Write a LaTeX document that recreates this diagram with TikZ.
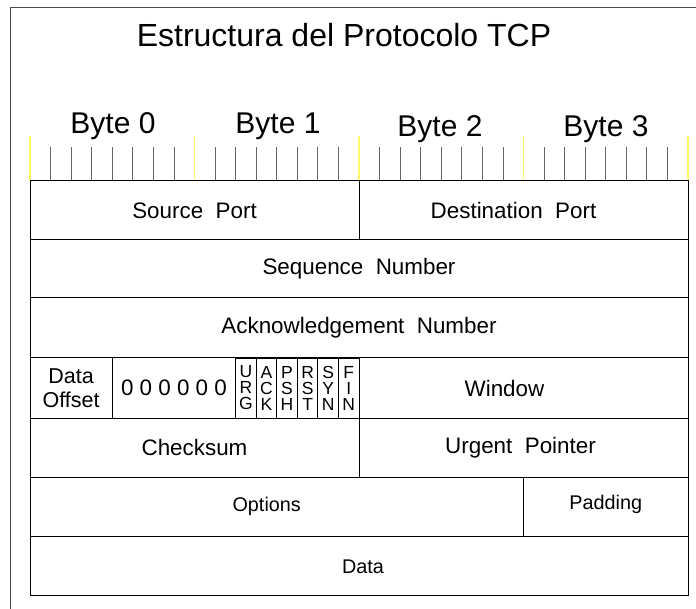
\documentclass[tikz,border=0pt]{standalone}
\usepackage{fontspec}
\setmainfont{Liberation Sans}

\newcommand{\fieldsize}{\fontsize{22.4}{24}\selectfont}
\newcommand{\smallfieldsize}{\fontsize{19.8}{22}\selectfont}
\newcommand{\flagsize}{\fontsize{17.5}{16}\selectfont}

\tikzset{
  field/.style={draw, line width=1pt, inner sep=0pt, font=\fieldsize},
  flagbox/.style={draw, line width=0.8pt, inner sep=0pt, align=center,
    minimum width=20.5625pt, minimum height=60pt, font=\flagsize},
  bittick/.style={draw=black!60, line width=0.8pt},
  bytetick/.style={draw=yellow!60, line width=1.2pt},
  every label/.style={font=\fieldsize}
}

\begin{document}
\begin{tikzpicture}[x=1pt, y=-1pt]
      \useasboundingbox (0, 0) rectangle (696, 609);

      % frame
      \coordinate (frametop) at (10, 8);
      \coordinate (frameright) at (696, 8);
      \coordinate (framebottom) at (10, 609);
      \draw[black!70, line width=1pt] (framebottom) -- (frametop) -- (frameright);

      \node (title) at (344, 35) {\fontsize{32}{36}\selectfont Estructura del Protocolo TCP};

      % byte labels
      \node (byte0) at (113, 126) {\fontsize{30}{32}\selectfont Byte 0};
      \node (byte1) at (278, 126) {\fontsize{30}{32}\selectfont Byte 1};
      \node (byte2) at (440, 129) {\fontsize{30}{32}\selectfont Byte 2};
      \node (byte3) at (606, 129) {\fontsize{30}{32}\selectfont Byte 3};

      % bit ticks
      \foreach \b in {0,...,3}
        \foreach \k in {1,...,7}
          \draw[bittick] ({30 + (8*\b + \k)*20.5625}, 147) -- ({30 + (8*\b + \k)*20.5625}, 181);
      \foreach \b in {0,...,4}
        \draw[bytetick] ({30 + 8*\b*20.5625}, 136) -- ({30 + 8*\b*20.5625}, 181);

      % row 1
      \node[field, minimum width=329pt, minimum height=59pt] (src) at (194.5, 210.5) {Source~~Port};
      \node[field, minimum width=329pt, minimum height=59pt,
            label={[xshift=-10pt]center:Destination~~Port}] (dst) at (523.5, 210.5) {};

      % row 2 and 3
      \node[field, minimum width=658pt, minimum height=58pt] (seq) at (359, 269) {Sequence~~Number};
      \node[field, minimum width=658pt, minimum height=60pt] (ack) at (359, 328) {Acknowledgement~~Number};

      % row 4
      \node[field, minimum width=82.25pt, minimum height=60pt, align=center,
            font=\fontsize{21.5}{24.5}\selectfont] (offset) at (71.125, 388) {Data\\Offset};
      \node[field, minimum width=123.375pt, minimum height=60pt] (reserved) at (173.9375, 388) {0 0 0 0 0 0};
      \node[flagbox] (urg) at (245.906, 388) {U\\R\\G};
      \node[flagbox] (ackflag) at (266.469, 388) {A\\C\\K};
      \node[flagbox] (psh) at (287.031, 388) {P\\S\\H};
      \node[flagbox] (rst) at (307.594, 388) {R\\S\\T};
      \node[flagbox] (syn) at (328.156, 388) {S\\Y\\N};
      \node[flagbox] (fin) at (348.719, 388) {F\\I\\N};
      \node[field, minimum width=329pt, minimum height=60pt,
            label={[xshift=-19pt]center:Window}] (window) at (523.5, 388) {};

      % row 5
      \node[field, minimum width=329pt, minimum height=59pt] (checksum) at (194.5, 447.5) {Checksum};
      \node[field, minimum width=329pt, minimum height=59pt,
            label={[xshift=-3pt]center:Urgent~~Pointer}] (urgent) at (523.5, 447.5) {};

      % row 6 and 7
      \node[field, minimum width=493.4pt, minimum height=59pt,
            label={[xshift=-10pt, font=\smallfieldsize]center:Options}] (options) at (276.7, 506.5) {};
      \node[field, minimum width=164.6pt, minimum height=59pt,
            label={[yshift=2pt, font=\smallfieldsize]center:Padding}] (padding) at (605.7, 506.5) {};
      \node[field, minimum width=658pt, minimum height=59pt,
            label={[xshift=4pt, yshift=-1pt, font=\smallfieldsize]center:Data}] (data) at (359, 565.5) {};
\end{tikzpicture}
\end{document}
